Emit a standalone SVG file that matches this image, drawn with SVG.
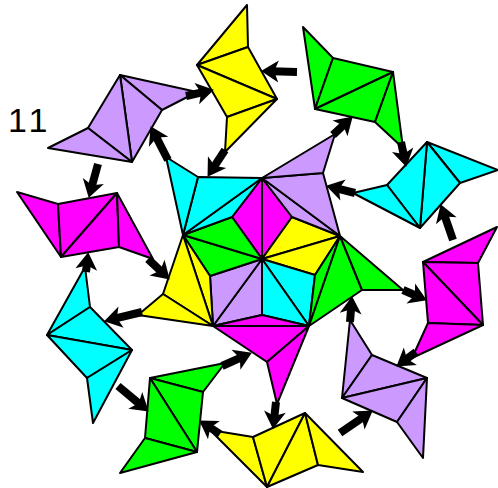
<svg xmlns="http://www.w3.org/2000/svg" width="498" height="488" viewBox="0 0 498 488">
<defs>
<style>
polygon{stroke:#000;stroke-width:2;stroke-linejoin:round}
.y{fill:#ffff00}.g{fill:#00ff00}.c{fill:#00ffff}.m{fill:#ff00ff}.l{fill:#cc99ff}
.a{stroke:#000;stroke-width:8;fill:none;marker-end:url(#ah)}
.t{font-family:"Liberation Sans",Arial,sans-serif;font-size:34px;letter-spacing:4px;fill:#000}
</style>
<marker id="ah" markerUnits="userSpaceOnUse" markerWidth="20" markerHeight="24" viewBox="0 -11 17 22" refX="6" refY="0" orient="auto">
<path d="M0,-10 L16,0 L0,10 L4,0 z" fill="#000"/>
</marker>
</defs>
<rect width="498" height="488" fill="#fff"/>
<text class="t" x="8" y="132">11</text>

<g id="center">
<g id="kites">
<polygon class="m" points="262,259 232,217 262,178"/>
<polygon class="m" points="262,259 262,178 292,217"/>
<polygon class="y" points="262,259 292,217 340,236"/>
<polygon class="y" points="262,259 340,236 315,275"/>
<polygon class="c" points="262,259 315,275 309,326"/>
<polygon class="c" points="262,259 309,326 262,315"/>
<polygon class="l" points="262,259 262,315 213,326"/>
<polygon class="l" points="262,259 213,326 210,276"/>
<polygon class="g" points="262,259 210,276 183,235"/>
<polygon class="g" points="262,259 183,235 232,217"/>
</g>
<g id="c-lilac">
<polygon class="l" points="262,178 292,217 340,236"/>
<polygon class="l" points="262,178 340,236 323,173"/>
<polygon class="l" points="262,178 323,173 335,134"/>
</g>
<g id="c-green">
<polygon class="g" points="340,236 315,275 309,326"/>
<polygon class="g" points="340,236 309,326 362,290"/>
<polygon class="g" points="340,236 362,290 403,290"/>
</g>
<g id="c-magenta">
<polygon class="m" points="309,326 262,315 213,326"/>
<polygon class="m" points="309,326 213,326 267,362"/>
<polygon class="m" points="309,326 267,362 277,404"/>
</g>
<g id="c-yellow">
<polygon class="y" points="213,326 210,276 183,235"/>
<polygon class="y" points="213,326 183,235 163,294"/>
<polygon class="y" points="213,326 163,294 138,315"/>
</g>
<g id="c-cyan">
<polygon class="c" points="183,235 232,217 262,178"/>
<polygon class="c" points="183,235 262,178 198,177"/>
<polygon class="c" points="183,235 198,177 166,157"/>
</g>
</g>

<g id="o-yellow-top">
<polygon class="y" points="197,65 247,5 248,47"/>
<polygon class="y" points="197,65 248,47 277,99"/>
<polygon class="y" points="197,65 277,99 227,117"/>
<polygon class="y" points="227,117 277,99 225,152"/>
</g>
<g id="o-green-tr">
<polygon class="g" points="303,27 333,58 315,109"/>
<polygon class="g" points="333,58 393,72 315,109"/>
<polygon class="g" points="315,109 393,72 375,122"/>
<polygon class="g" points="393,72 403,148 375,122"/>
</g>
<g id="o-cyan-r">
<polygon class="c" points="427,142 498,170 460,183"/>
<polygon class="c" points="427,142 460,183 420,228"/>
<polygon class="c" points="427,142 420,228 387,185"/>
<polygon class="c" points="387,185 420,228 353,193"/>
</g>
<g id="o-magenta-r">
<polygon class="m" points="423,262 497,227 478,263"/>
<polygon class="m" points="423,262 478,263 483,325"/>
<polygon class="m" points="423,262 483,325 428,323"/>
<polygon class="m" points="428,323 483,325 412,358"/>
</g>
<g id="o-lilac-lr">
<polygon class="l" points="350,320 372,355 342,398"/>
<polygon class="l" points="372,355 427,378 342,398"/>
<polygon class="l" points="342,398 427,378 397,422"/>
<polygon class="l" points="427,378 423,458 397,422"/>
</g>
<g id="o-yellow-b">
<polygon class="y" points="210,430 253,437 267,487"/>
<polygon class="y" points="253,437 305,413 267,487"/>
<polygon class="y" points="267,487 305,413 318,465"/>
<polygon class="y" points="305,413 363,472 318,465"/>
</g>
<g id="o-green-bl">
<polygon class="g" points="150,378 225,363 203,392"/>
<polygon class="g" points="150,378 203,392 197,452"/>
<polygon class="g" points="150,378 197,452 145,438"/>
<polygon class="g" points="145,438 197,452 120,473"/>
</g>
<g id="o-cyan-l">
<polygon class="c" points="85,267 90,307 47,335"/>
<polygon class="c" points="47,335 90,307 132,350"/>
<polygon class="c" points="47,335 132,350 87,378"/>
<polygon class="c" points="87,378 132,350 93,423"/>
</g>
<g id="o-magenta-l">
<polygon class="m" points="17,192 58,204 61,257"/>
<polygon class="m" points="58,204 117,193 61,257"/>
<polygon class="m" points="61,257 117,193 119,247"/>
<polygon class="m" points="117,193 153,259 119,247"/>
</g>
<g id="o-lilac-tl">
<polygon class="l" points="120,75 197,92 162,110"/>
<polygon class="l" points="120,75 162,110 132,162"/>
<polygon class="l" points="120,75 132,162 88,128"/>
<polygon class="l" points="88,128 132,162 48,148"/>
</g>

<g id="connectors">
<line class="a" x1="186" y1="96" x2="203.2" y2="92.2"/>
<line class="a" x1="297" y1="72" x2="272" y2="71.3"/>
<line class="a" x1="401" y1="142" x2="404" y2="156.2"/>
<line class="a" x1="453" y1="240" x2="444.2" y2="214.5"/>
<line class="a" x1="416" y1="352" x2="405.1" y2="360.1"/>
<line class="a" x1="340" y1="433" x2="363.8" y2="416.7"/>
<line class="a" x1="220" y1="434" x2="208.4" y2="426.5"/>
<line class="a" x1="118" y1="386" x2="140.3" y2="404.6"/>
<line class="a" x1="86" y1="272" x2="87" y2="263"/>
<line class="a" x1="98" y1="164" x2="91.6" y2="187.3"/>
<line class="a" x1="168" y1="160" x2="155.6" y2="135.9"/>
<line class="a" x1="148" y1="259" x2="161.8" y2="272.1"/>
<line class="a" x1="142" y1="312" x2="114.7" y2="318.6"/>
<line class="a" x1="225" y1="150" x2="213.5" y2="167.6"/>
<line class="a" x1="333" y1="135" x2="344.8" y2="123.9"/>
<line class="a" x1="355" y1="193" x2="336.7" y2="188.4"/>
<line class="a" x1="350" y1="322" x2="351.2" y2="307"/>
<line class="a" x1="403" y1="290" x2="416.8" y2="296"/>
<line class="a" x1="276" y1="402" x2="274.2" y2="418.1"/>
<line class="a" x1="222" y1="366" x2="241.9" y2="357.1"/>
</g>
</svg>
